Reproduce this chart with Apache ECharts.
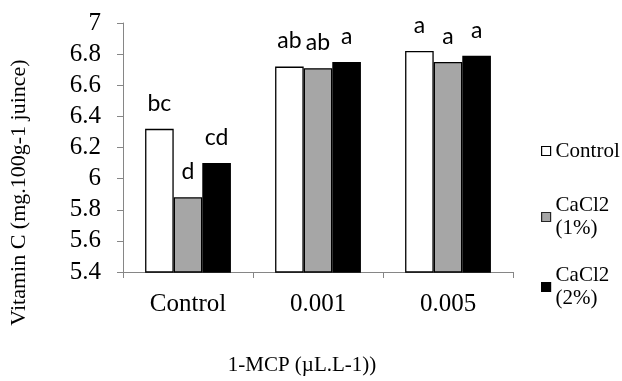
<!DOCTYPE html>
<html>
<head>
<meta charset="utf-8">
<script src="https://cdn.jsdelivr.net/npm/echarts@6/dist/echarts.min.js"></script>
<style>html,body{margin:0;padding:0;background:#fff;}#c{width:622px;height:381px;}</style>
</head>
<body>
<div id="c"></div>
<script>
// ---- data ----
var categories = ['Control', '0.001', '0.005'];
var seriesNames = ['Control', 'CaCl2 (1%)', 'CaCl2 (2%)'];
var controlVals = [6.32, 6.72, 6.82];
var cacl1Vals = [5.88, 6.71, 6.75];
var cacl2Vals = [6.10, 6.75, 6.79];
var controlLetters = ['bc', 'ab', 'a'];
var cacl1Letters = ['d', 'ab', 'a'];
var cacl2Letters = ['cd', 'a', 'a'];
var yMin = 5.4, yMax = 7, yStep = 0.2;
var xTitle = '1-MCP (\u00b5L.L-1))';
var yTitle = 'Vitamin C (mg.100g-1 juince)';

var serif = '"Liberation Serif", "Times New Roman", serif';
var letterFont = 'Lato, "Liberation Sans", sans-serif';
var axisGray = '#868686';
var fills = ['#ffffff', '#a6a6a6', '#000000'];
var valueSets = [controlVals, cacl1Vals, cacl2Vals];
var letterSets = [controlLetters, cacl1Letters, cacl2Letters];

var chart = echarts.init(document.getElementById('c'), null, {renderer: 'canvas'});

function makeSeries(i) {
  return {
    name: seriesNames[i],
    type: 'bar',
    data: valueSets[i],
    barGap: '0%',
    barCategoryGap: '34%',
    itemStyle: {color: fills[i], borderColor: '#000', borderWidth: 1.3},
    label: {
      show: true,
      position: 'top',
      distance: 14,
      fontFamily: letterFont,
      fontSize: 23,
      color: '#000',
      formatter: function (p) { return letterSets[i][p.dataIndex]; }
    }
  };
}

function makeLegend(i, top, multi) {
  return {
    orient: 'vertical',
    left: 541,
    top: top,
    padding: 0,
    itemWidth: 9,
    itemHeight: 9,
    itemGap: 0,
    icon: 'rect',
    data: [seriesNames[i]],
    selectedMode: false,
    itemStyle: {color: fills[i], borderColor: i === 1 ? '#262626' : '#000', borderWidth: 1.2},
    formatter: function (n) { return n.replace(' ', '\n'); },
    textStyle: {
      fontFamily: serif,
      fontSize: 21,
      lineHeight: 23,
      color: '#000',
      padding: multi ? [23, 0, 0, 0] : 0
    }
  };
}

var option = {
  backgroundColor: '#fff',
  animation: false,
  grid: {left: 120, right: 109, top: 23, bottom: 103, containLabel: false},
  legend: [makeLegend(0, 139.5, false), makeLegend(1, 182.5, true), makeLegend(2, 252.5, true)],
  xAxis: {
    type: 'category',
    data: categories,
    name: xTitle,
    nameLocation: 'middle',
    nameGap: 83,
    nameTextStyle: {fontFamily: serif, fontSize: 21, color: '#000', padding: [0, 32, 0, 0]},
    axisLine: {show: true, lineStyle: {color: axisGray, width: 1}},
    axisTick: {show: true, length: 6, lineStyle: {color: axisGray}},
    axisLabel: {fontFamily: serif, fontSize: 25, color: '#000', margin: 20},
    splitLine: {show: false}
  },
  yAxis: {
    type: 'value',
    min: yMin,
    max: yMax,
    interval: yStep,
    name: yTitle,
    nameLocation: 'middle',
    nameRotate: 90,
    nameGap: 93,
    nameTextStyle: {fontFamily: serif, fontSize: 22, color: '#000', padding: [0, 90, 0, 0]},
    axisLine: {show: true, lineStyle: {color: axisGray, width: 1}},
    axisTick: {show: true, length: 6, lineStyle: {color: axisGray}},
    axisLabel: {
      fontFamily: serif, fontSize: 25, color: '#000', margin: 22,
      formatter: function (v) { return String(+v.toFixed(1)); }
    },
    splitLine: {show: false}
  },
  series: [makeSeries(0), makeSeries(1), makeSeries(2)]
};
chart.setOption(option);
</script>
</body>
</html>
